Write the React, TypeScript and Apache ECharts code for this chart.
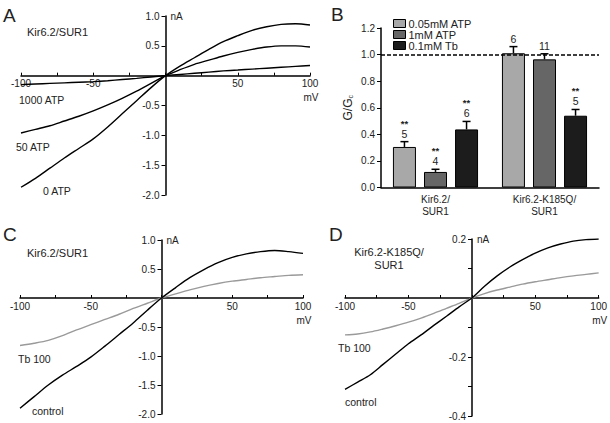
import React, { useEffect, useRef } from "react";
import * as echarts from "echarts";

const FONT = "'Liberation Sans', Arial, sans-serif";

// ---- Data ----
const voltages = [-100, -90, -80, -70, -60, -50, -40, -30, -20, -10, 0, 10, 20, 30, 40, 50, 60, 70, 80, 90, 100];

// Panel A (nA)
const aAtp0 = [-1.87, -1.72, -1.55, -1.38, -1.22, -1.06, -0.86, -0.64, -0.42, -0.2, 0, 0.16, 0.3, 0.44, 0.57, 0.67, 0.76, 0.82, 0.86, 0.87, 0.85];
const aAtp50 = [-0.96, -0.9, -0.84, -0.76, -0.68, -0.59, -0.49, -0.38, -0.26, -0.13, 0, 0.1, 0.19, 0.26, 0.33, 0.39, 0.44, 0.48, 0.5, 0.5, 0.48];
const aAtp1000 = [-0.15, -0.14, -0.13, -0.12, -0.11, -0.1, -0.085, -0.065, -0.045, -0.022, 0, 0.02, 0.04, 0.06, 0.08, 0.095, 0.11, 0.125, 0.14, 0.155, 0.17];

// Panel C (nA)
const cControl = [-1.9, -1.7, -1.5, -1.33, -1.18, -1.02, -0.83, -0.63, -0.43, -0.21, 0, 0.18, 0.35, 0.49, 0.61, 0.7, 0.76, 0.8, 0.82, 0.8, 0.77];
const cTb100 = [-0.82, -0.78, -0.73, -0.65, -0.55, -0.46, -0.37, -0.28, -0.18, -0.09, 0, 0.07, 0.14, 0.2, 0.25, 0.29, 0.32, 0.35, 0.37, 0.39, 0.4];

// Panel D (nA)
const dControl = [-0.31, -0.285, -0.26, -0.225, -0.19, -0.155, -0.125, -0.093, -0.062, -0.03, 0, 0.04, 0.075, 0.105, 0.13, 0.152, 0.17, 0.183, 0.193, 0.198, 0.2];
const dTb100 = [-0.125, -0.122, -0.115, -0.105, -0.094, -0.082, -0.068, -0.052, -0.035, -0.018, 0, 0.015, 0.027, 0.037, 0.047, 0.055, 0.062, 0.069, 0.075, 0.08, 0.085];

// Panel B
const bCategories = ["Kir6.2/\nSUR1", "Kir6.2-K185Q/\nSUR1"];
const bSeriesNames = ["0.05mM ATP", "1mM ATP", "0.1mM Tb"];
const bAtp005 = [0.305, 1.01];
const bAtp1 = [0.117, 0.964];
const bTb = [0.437, 0.54];
const bAtp005Err = [0.04, 0.05];
const bAtp1Err = [0.02, 0.042];
const bTbErr = [0.06, 0.047];
const bN = [["5", "6"], ["4", "11"], ["6", "5"]];
const bSig = [["**", ""], ["**", ""], ["**", "**"]];

// x range of the I-V panels (mV)
const xMin = -100;
const xMax = 100;

const pairs = (ys: number[]) => voltages.map((v, i) => [v, ys[i]]);

type G = { left: number; top: number; width: number; height: number };
const gridA: G = { left: 21, top: 16, width: 289, height: 179 };
const gridB: G = { left: 381, top: 28, width: 218, height: 159.5 };
const gridC: G = { left: 20, top: 240, width: 283, height: 174 };
const gridD: G = { left: 345, top: 239, width: 254, height: 177 };

const xAxisIV = (gridIndex: number, g: G, ymin: number, ymax: number) => ({
  type: "value",
  gridIndex,
  min: xMin,
  max: xMax,
  interval: 25,
  position: "bottom",
  offset: -(g.height * (0 - ymin)) / (ymax - ymin),
  name: "mV",
  nameLocation: "end",
  nameGap: 1,
  nameTextStyle: { fontFamily: FONT, fontSize: 10, color: "#222", align: "center", verticalAlign: "top", padding: [17, 0, 0, 0] },
  axisLine: { onZero: false, lineStyle: { color: "#000", width: 1.5 } },
  axisTick: { show: true, inside: true, length: 3, lineStyle: { color: "#000", width: 1 } },
  axisLabel: {
    fontFamily: FONT, fontSize: 10, color: "#222", margin: 3, showMinLabel: true, showMaxLabel: true,
    formatter: (v: number) => (v % 50 === 0 && v !== 0 ? String(v) : ""),
  },
  splitLine: { show: false },
});

const yAxisIV = (gridIndex: number, g: G, min: number, max: number, interval: number, fmt: (v: number) => string) => ({
  type: "value",
  gridIndex,
  min,
  max,
  interval,
  position: "left",
  offset: -(g.width * (0 - xMin)) / (xMax - xMin),
  name: "nA",
  nameLocation: "end",
  nameGap: 0,
  nameTextStyle: { fontFamily: FONT, fontSize: 10, color: "#222", align: "left", verticalAlign: "middle", padding: [0, 0, 0, 5] },
  axisLine: { onZero: false, lineStyle: { color: "#000", width: 1.5 } },
  axisTick: { show: true, inside: false, length: 4, lineStyle: { color: "#000", width: 1 } },
  axisLabel: { fontFamily: FONT, fontSize: 10, color: "#222", margin: 6, showMinLabel: true, showMaxLabel: true, formatter: fmt },
  splitLine: { show: false },
});

const lineSeries = (name: string, ys: number[], axis: number, color: string) => ({
  type: "line",
  name,
  xAxisIndex: axis,
  yAxisIndex: axis,
  data: pairs(ys),
  showSymbol: false,
  symbol: "none",
  smooth: 0.3,
  lineStyle: { color, width: 1.4 },
  silent: true,
});

const bValues = [bAtp005, bAtp1, bTb];
const bErrs = [bAtp005Err, bAtp1Err, bTbErr];
const bColors = ["#a8a8a8", "#666666", "#1c1c1c"];

const errData: number[][] = [];
bValues.forEach((vals, s) => vals.forEach((v, c) => errData.push([c, s, v, bErrs[s][c]])));

const text = (t: string, x: number, y: number, size = 11, align = "left") => ({
  type: "text",
  x,
  y,
  silent: true,
  style: { text: t, fontFamily: FONT, fontSize: size, fill: "#222", align, verticalAlign: "middle" },
});

export default function App() {
  const ref = useRef<HTMLDivElement>(null);
  useEffect(() => {
    if (!ref.current) return;
    const chart = echarts.init(ref.current, undefined, { renderer: "svg" });
    const fmt1 = (v: number) => (Math.abs(v) < 1e-9 ? "" : v.toFixed(1));
    const fmtD = (v: number) => {
      const k = Math.round(v * 10);
      return k === 0 || k % 2 !== 0 ? "" : (k / 10).toFixed(1);
    };
    const option: any = {
      animation: false,
      backgroundColor: "#fff",
      textStyle: { fontFamily: FONT },
      grid: [gridA, gridB, gridC, gridD],
      legend: {
        data: bSeriesNames,
        orient: "vertical",
        left: 388,
        top: 13,
        itemWidth: 12,
        itemHeight: 8,
        itemGap: 0,
        icon: "rect",
        itemStyle: { borderColor: "#000", borderWidth: 1 },
        textStyle: { fontFamily: FONT, fontSize: 11, color: "#222", lineHeight: 11, padding: [0, 0, 0, -2] },
        selectedMode: false,
      },
      xAxis: [
        xAxisIV(0, gridA, -2, 1),
        {
          type: "category",
          gridIndex: 1,
          data: bCategories,
          axisLine: { lineStyle: { color: "#000", width: 1.5 } },
          axisTick: { show: false },
          axisLabel: { fontFamily: FONT, fontSize: 10, color: "#222", lineHeight: 12, margin: 6 },
        },
        xAxisIV(2, gridC, -2, 1),
        xAxisIV(3, gridD, -0.4, 0.2),
      ],
      yAxis: [
        yAxisIV(0, gridA, -2, 1, 0.5, fmt1),
        {
          type: "value",
          gridIndex: 1,
          min: 0,
          max: 1.2,
          interval: 0.2,
          name: "{a|G/G}{b|c}",
          nameLocation: "middle",
          nameGap: 27,
          nameTextStyle: {
            rich: {
              a: { fontFamily: FONT, fontSize: 12, color: "#222" },
              b: { fontFamily: FONT, fontSize: 7, color: "#222", verticalAlign: "bottom", padding: [5, 0, 0, 0] },
            },
          },
          axisLine: { show: true, lineStyle: { color: "#000", width: 1.5 } },
          axisTick: { show: true, inside: false, length: 4, lineStyle: { color: "#000", width: 1 } },
          axisLabel: { fontFamily: FONT, fontSize: 10, color: "#222", margin: 6, formatter: (v: number) => v.toFixed(1) },
          splitLine: { show: false },
        },
        yAxisIV(2, gridC, -2, 1, 0.5, fmt1),
        yAxisIV(3, gridD, -0.4, 0.2, 0.1, fmtD),
      ],
      series: [
        lineSeries("0 ATP", aAtp0, 0, "#000"),
        lineSeries("50 ATP", aAtp50, 0, "#000"),
        lineSeries("1000 ATP", aAtp1000, 0, "#000"),
        lineSeries("C Tb 100", cTb100, 2, "#9a9a9a"),
        lineSeries("C control", cControl, 2, "#000"),
        lineSeries("D Tb 100", dTb100, 3, "#9a9a9a"),
        lineSeries("D control", dControl, 3, "#000"),
        ...bSeriesNames.map((name, s) => ({
          type: "bar",
          name,
          xAxisIndex: 1,
          yAxisIndex: 1,
          data: bValues[s],
          barWidth: 23,
          barGap: "35%",
          itemStyle: { color: bColors[s], borderColor: "#000", borderWidth: 1 },
          silent: true,
          markLine:
            s === 0
              ? {
                  silent: true,
                  symbol: "none",
                  label: { show: false },
                  lineStyle: { color: "#000", type: [4, 2], width: 1.5 },
                  data: [{ yAxis: 1.0 }],
                }
              : undefined,
        })),
        {
          type: "custom",
          name: "errors",
          xAxisIndex: 1,
          yAxisIndex: 1,
          data: errData,
          silent: true,
          z: 5,
          renderItem: (_params: any, api: any) => {
            const c = api.value(0);
            const s = api.value(1);
            const v = api.value(2);
            const e = api.value(3);
            const base = api.coord([c, v]);
            const top = api.coord([c, v + e]);
            const x = base[0] + (s - 1) * 31.05;
            const ty = top[1];
            const children: any[] = [
              { type: "line", shape: { x1: x, y1: base[1], x2: x, y2: ty }, style: { stroke: "#000", lineWidth: 1.5 } },
              { type: "line", shape: { x1: x - 4, y1: ty, x2: x + 4, y2: ty }, style: { stroke: "#000", lineWidth: 1.5 } },
              {
                type: "text",
                x,
                y: ty - 8,
                style: { text: bN[s][c], fontFamily: FONT, fontSize: 10.5, fill: "#222", align: "center", verticalAlign: "middle" },
              },
            ];
            if (bSig[s][c]) {
              children.push({
                type: "text",
                x,
                y: ty - 13.5,
                style: { text: bSig[s][c], fontFamily: FONT, fontSize: 9.5, fontWeight: "bold", fill: "#222", align: "center", verticalAlign: "bottom" },
              });
            }
            return { type: "group", children };
          },
        },
      ],
      graphic: [
        text("A", 3, 15, 19),
        text("Kir6.2/SUR1", 27, 32, 11),
        text("1000 ATP", 19, 100, 10.5),
        text("50 ATP", 16, 147, 10.5),
        text("0 ATP", 43, 191, 10.5),
        text("B", 331, 14, 19),
        text("C", 3, 234, 19),
        text("Kir6.2/SUR1", 27, 253, 11),
        text("Tb 100", 18, 359, 10.5),
        text("control", 32, 411, 10.5),
        text("D", 329, 234, 19),
        text("Kir6.2-K185Q/", 389, 252, 11, "center"),
        text("SUR1", 389, 265, 11, "center"),
        text("Tb 100", 338, 348, 10.5),
        text("control", 345, 402, 10.5),
      ],
    };
    chart.setOption(option);
    return () => chart.dispose();
  }, []);
  return <div ref={ref} style={{ position: "fixed", left: 0, top: 0, width: 610, height: 423, background: "#fff" }} />;
}
